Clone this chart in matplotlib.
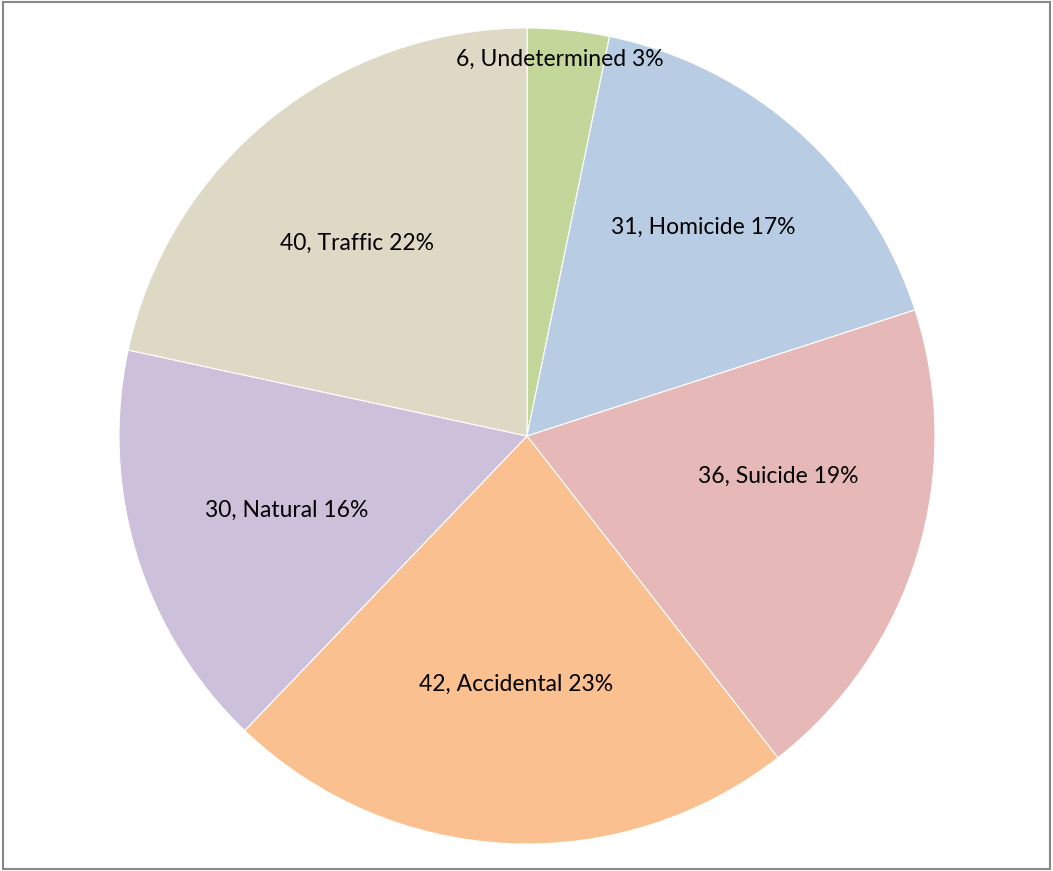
import matplotlib
matplotlib.use("Agg")
from matplotlib import pyplot as plt
from matplotlib.patches import Rectangle

# data
causes = ["Undetermined", "Homicide", "Suicide", "Accidental", "Natural", "Traffic"]
counts = [6, 31, 36, 42, 30, 40]
colors = ["#C4D79B", "#B8CCE4", "#E6B8B7", "#FAC090", "#CCC0DA", "#DDD9C4"]

# label placement (in pie radius units), mimicking Excel's best fit
label_pos = [(0.081, 0.922), (0.431, 0.512), (0.615, -0.098),
             (-0.027, -0.608), (-0.588, -0.181), (-0.417, 0.471)]


def main():
    fig = plt.figure(figsize=(10.53, 8.71), dpi=100)
    r_px = 408
    ax = fig.add_axes([(527 - r_px) / 1053, (871 - 436 - r_px) / 871,
                       2 * r_px / 1053, 2 * r_px / 871])
    wedges, texts = ax.pie(counts, colors=colors, startangle=90,
                           counterclock=False, radius=1,
                           wedgeprops=dict(edgecolor="white", linewidth=0.8))
    ax.set_xlim(-1, 1)
    ax.set_ylim(-1, 1)
    ax.set_aspect("equal")
    ax.axis("off")

    total = sum(counts)
    for name, n, (x, y) in zip(causes, counts, label_pos):
        pct = round(100 * n / total)
        ax.text(x, y, f"{n}, {name} {pct}%", ha="center", va="center",
                fontsize=16.5, family="Lato", color="black")

    fig.add_artist(Rectangle((2.5 / 1053, 2.5 / 871), 1047 / 1053, 866 / 871,
                             transform=fig.transFigure, fill=False,
                             edgecolor="#888888", linewidth=1.5))
    fig.savefig("out.png", dpi=100)


if __name__ == "__main__":
    main()
